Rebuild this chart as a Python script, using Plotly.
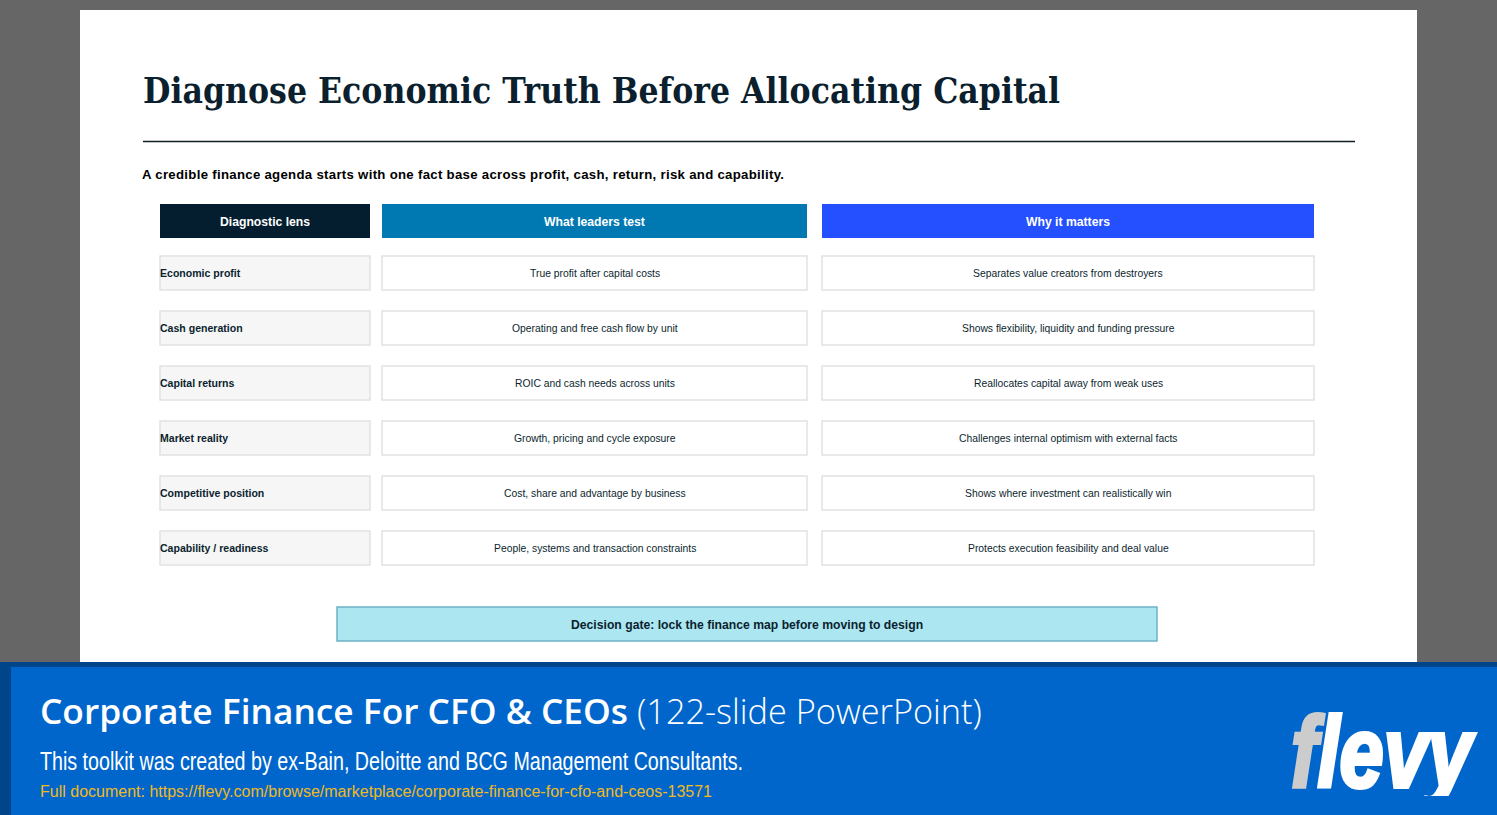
import plotly.graph_objects as go

TITLE = "Diagnose Economic Truth Before Allocating Capital"
SUBTITLE = "A credible finance agenda starts with one fact base across profit, cash, return, risk and capability."
HEADERS = ["Diagnostic lens", "What leaders test", "Why it matters"]
LENSES = ["Economic profit", "Cash generation", "Capital returns", "Market reality",
          "Competitive position", "Capability / readiness"]
TESTS = ["True profit after capital costs", "Operating and free cash flow by unit",
         "ROIC and cash needs across units", "Growth, pricing and cycle exposure",
         "Cost, share and advantage by business", "People, systems and transaction constraints"]
WHY = ["Separates value creators from destroyers", "Shows flexibility, liquidity and funding pressure",
       "Reallocates capital away from weak uses", "Challenges internal optimism with external facts",
       "Shows where investment can realistically win", "Protects execution feasibility and deal value"]
GATE = "Decision gate: lock the finance map before moving to design"
BANNER_BOLD = "Corporate Finance For CFO &amp; CEOs"
BANNER_LIGHT = "(122-slide PowerPoint)"
BANNER_LINE = "This toolkit was created by ex-Bain, Deloitte and BCG Management Consultants."
BANNER_URL = "Full document: https://flevy.com/browse/marketplace/corporate-finance-for-cfo-and-ceos-13571"

COL_X = [(160, 370), (382, 807), (822, 1314)]
HEADER_COLORS = ["#041E30", "#0079B3", "#2450FF"]
ROW_Y = [(256, 290), (311, 345), (366, 400), (421, 455), (476, 510), (531, 565)]

shapes, ann = [], []

def rect(x0, y0, x1, y1, fill, line=None, lw=0):
    shapes.append(dict(type="rect", x0=x0, y0=y0, x1=x1, y1=y1, fillcolor=fill, layer="below",
                       line=dict(color=line or fill, width=lw)))

def text(x, y, s, size, color, family="Liberation Sans", xa="left", ya="middle", weight=None):
    f = dict(size=size, color=color, family=family)
    if weight:
        f["weight"] = weight
    ann.append(dict(x=x, y=y, text=s, showarrow=False, xanchor=xa, yanchor=ya, font=f,
                    xref="x", yref="y", borderpad=0, borderwidth=0, align="left"))

rect(0, 0, 1497, 815, "#666666")
rect(80, 10, 1417, 670, "#FFFFFF")
rect(0, 662, 1497, 815, "#004489")
rect(11, 667, 1497, 815, "#0066CC")

shapes.append(dict(type="line", x0=143, x1=1355, y0=141.5, y1=141.5, line=dict(color="#101C24", width=1.5)))
text(143, 90.5, "<b>" + TITLE + "</b>", 34.5, "#0B1F2E", "DejaVu Serif")
text(142, 174.5, "<b>" + SUBTITLE + "</b>", 13.2, "#000000")

for (x0, x1), c, h in zip(COL_X, HEADER_COLORS, HEADERS):
    rect(x0, 204, x1, 238, c)
    text((x0 + x1) / 2, 221.5, "<b>" + h + "</b>", 12.2, "#FFFFFF", xa="center")

for (y0, y1), a, b, c in zip(ROW_Y, LENSES, TESTS, WHY):
    ym = (y0 + y1) / 2
    rect(COL_X[0][0], y0, COL_X[0][1], y1, "#F6F6F6", "#E2E2E2", 1.5)
    rect(COL_X[1][0], y0, COL_X[1][1], y1, "#FFFFFF", "#E2E2E2", 1.5)
    rect(COL_X[2][0], y0, COL_X[2][1], y1, "#FFFFFF", "#E2E2E2", 1.5)
    text(160, ym, "<b>" + a + "</b>", 10.55, "#0B1F2E")
    text((COL_X[1][0] + COL_X[1][1]) / 2, ym, b, 10.35, "#0B1F2E", xa="center")
    text((COL_X[2][0] + COL_X[2][1]) / 2, ym, c, 10.35, "#0B1F2E", xa="center")

rect(337, 607, 1157, 641, "#ABE6F1", "#6FB3C6", 1.5)
text(747, 624.5, "<b>" + GATE + "</b>", 12.2, "#0B1F2E", xa="center")

text(40, 710, BANNER_BOLD, 35, "#FFFFFF", "Open Sans", weight=650)
text(637, 710, BANNER_LIGHT, 34.3, "#FFFFFF", "Open Sans", weight=300)
text(40, 761, BANNER_LINE, 25, "#FFFFFF", "Liberation Sans")
text(40, 791, BANNER_URL, 16, "#F0B91E")
text(1291, 752, '<b><i><span style="color:#CCCCCC">f</span>levy</i></b>', 100, "#FFFFFF")

POST = """
document.body.style.margin='0';document.body.style.overflow='hidden';
function fit(t,w,mode){t.setAttribute('textLength',w);t.setAttribute('lengthAdjust',mode);}
document.querySelectorAll('.annotation-text').forEach(function(t){
  var s=t.textContent;
  if(s.indexOf('Diagnose')===0){fit(t,'917','spacingAndGlyphs');}
  if(s.indexOf('A credible')===0){fit(t,'642','spacing');}
  if(s.indexOf('Corporate')===0){fit(t,'588','spacingAndGlyphs');}
  if(s.indexOf('This toolkit')===0){fit(t,'703','spacingAndGlyphs');}
  if(s==='flevy'){
    fit(t,'181','spacingAndGlyphs');
    t.style.stroke='#FFFFFF';t.style.strokeWidth='4px';
    t.querySelectorAll('tspan').forEach(function(p){
      if(p.textContent==='f'){p.style.stroke='#CCCCCC';p.style.strokeWidth='4px';}
    });
    var layer=document.querySelector('.infolayer');
    var r=document.createElementNS('http://www.w3.org/2000/svg','rect');
    r.setAttribute('x','1380');r.setAttribute('y','796');r.setAttribute('width','117');r.setAttribute('height','19');
    r.setAttribute('fill','#0066CC');
    layer.appendChild(r);
  }
});
"""

fig = go.Figure()
fig.update_layout(
    width=1497, height=815, margin=dict(l=0, r=0, t=0, b=0),
    paper_bgcolor="#666666", plot_bgcolor="#666666", showlegend=False,
    xaxis=dict(range=[0, 1497], visible=False, fixedrange=True),
    yaxis=dict(range=[815, 0], visible=False, fixedrange=True),
    shapes=shapes, annotations=ann,
)
fig.write_html("out.html", config=dict(displayModeBar=False), post_script=POST)
